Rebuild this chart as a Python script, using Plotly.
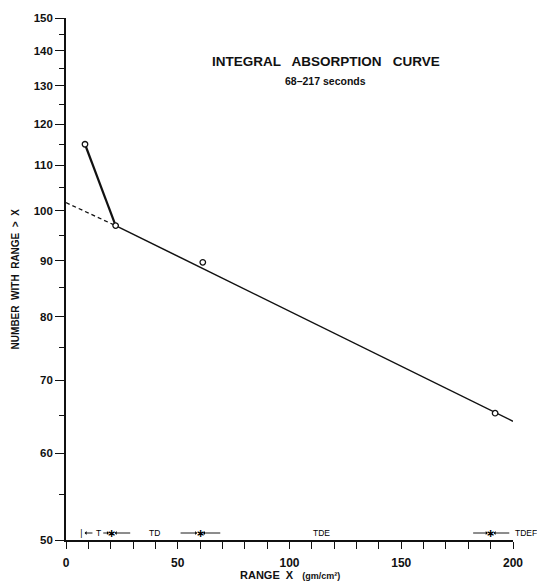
import math
import plotly.graph_objects as go

# ---- data ----
pts_x = [8.5, 22.2, 61.2, 192.0]          # measured points (gm/cm^2)
pts_y = [115.0, 96.9, 89.7, 65.3]         # number with range > X

fit_x = [0.0, 22.2, 200.0]                # fitted exponential line
fit_y = [101.7, 96.9, 64.2]

x_ticks = [0, 50, 100, 150, 200]
y_ticks = [50, 60, 70, 80, 90, 100, 110, 120, 130, 140, 150]
y_minor = [55, 65, 75, 85, 95, 105, 115, 125, 135, 145]

zone_bounds = [7.0, 20.5, 60.0, 190.0]
zone_marks = ["|", "<b>∗</b>", "<b>∗</b>", "<b>∗</b>"]
zone_mark_size = [8, 11, 11, 11]
left_tail = [None, 16.0, 50.6, 181.5]
right_tail = [12.5, 29.4, 69.7, 199.0]
zone_labels = ["T", "TD", "TDE", "TDEF"]
zone_label_x = [14.4, 39.8, 114.4, 200.0]
zone_label_anchor = ["center", "center", "center", "left"]

FONT = "Liberation Sans"
ink = "#111111"

fig = go.Figure()

fig.add_trace(go.Scatter(x=fit_x[:2], y=fit_y[:2], mode="lines",
                         line=dict(color=ink, width=1.3, dash="4px,3px"),
                         showlegend=False, hoverinfo="skip"))
fig.add_trace(go.Scatter(x=fit_x[1:], y=fit_y[1:], mode="lines",
                         line=dict(color=ink, width=1.5),
                         showlegend=False, hoverinfo="skip"))
fig.add_trace(go.Scatter(x=pts_x[:2], y=pts_y[:2], mode="lines",
                         line=dict(color=ink, width=2.2),
                         showlegend=False, hoverinfo="skip"))
fig.add_trace(go.Scatter(x=pts_x, y=pts_y, mode="markers",
                         marker=dict(symbol="circle", size=5.5, color="white",
                                     line=dict(color=ink, width=1.3)),
                         showlegend=False, cliponaxis=False))

ann = []
ylog50 = math.log10(y_ticks[0])
row_shift = 7
for b, m, ms, lt, rt in zip(zone_bounds, zone_marks, zone_mark_size, left_tail, right_tail):
    ann.append(dict(x=b, y=ylog50, xref="x", yref="y", text=m, showarrow=False,
                    yshift=row_shift, font=dict(family="DejaVu Sans", size=ms, color="black")))
    for tail in (lt, rt):
        if tail is not None:
            ann.append(dict(x=b, y=ylog50, xref="x", yref="y", ax=tail, ay=0, axref="x", ayref="pixel",
                            text="", showarrow=True, arrowhead=1, arrowsize=0.7, arrowwidth=0.9,
                            arrowcolor="black", standoff=3, yshift=row_shift))
for lab, lx, anc in zip(zone_labels, zone_label_x, zone_label_anchor):
    ann.append(dict(x=lx, y=ylog50, xref="x", yref="y", text=lab, showarrow=False,
                    xanchor=anc, yshift=row_shift,
                    font=dict(family=FONT, size=8.5, color="black")))

ann.append(dict(x=0.582, y=0.935, xref="paper", yref="paper",
                text="<b>INTEGRAL   ABSORPTION   CURVE</b>", showarrow=False,
                font=dict(family=FONT, size=13.5, color=ink)))
ann.append(dict(x=0.58, y=0.895, xref="paper", yref="paper",
                text="<b>68–217 seconds</b>", showarrow=False,
                font=dict(family=FONT, size=10.5, color=ink)))
ann.append(dict(x=-0.13, y=0.5, xref="paper", yref="paper", textangle=-90,
                text="<b>NUMBER  WITH  RANGE  >  X</b>", showarrow=False,
                font=dict(family=FONT, size=10, color=ink)))
ann.append(dict(x=0.501, y=-0.082, xref="paper", yref="paper",
                text="<b>RANGE  X</b>   <b><span style='font-size:9px'>(gm/cm²)</span></b>",
                showarrow=False, font=dict(family=FONT, size=11, color=ink)))

fig.update_layout(
    width=537, height=586,
    margin=dict(l=66, r=24, t=16, b=46),
    paper_bgcolor="white", plot_bgcolor="white",
    annotations=ann,
    xaxis=dict(range=[0, 200], showline=True, linecolor=ink, linewidth=1.5,
               ticks="outside", ticklen=7, tickwidth=1.4, tickcolor=ink,
               tickvals=x_ticks, showgrid=False, zeroline=False,
               ticklabelstandoff=4,
               tickfont=dict(family=FONT, size=12, color=ink, weight="bold"),
               minor=dict(dtick=10, ticks="outside", ticklen=7, tickwidth=1.4,
                          tickcolor=ink, showgrid=False)),
    yaxis=dict(type="log", range=[math.log10(50), math.log10(150)],
               showline=True, linecolor=ink, linewidth=1.6,
               ticks="outside", ticklen=9, tickwidth=1.4, tickcolor=ink,
               tickvals=y_ticks, ticktext=[str(v) for v in y_ticks],
               showgrid=False, zeroline=False,
               tickfont=dict(family=FONT, size=11.5, color=ink, weight="bold"),
               minor=dict(tickvals=y_minor, ticks="outside", ticklen=5, tickwidth=1.2,
                          tickcolor=ink, showgrid=False)),
)

fig.write_html("out.html")
